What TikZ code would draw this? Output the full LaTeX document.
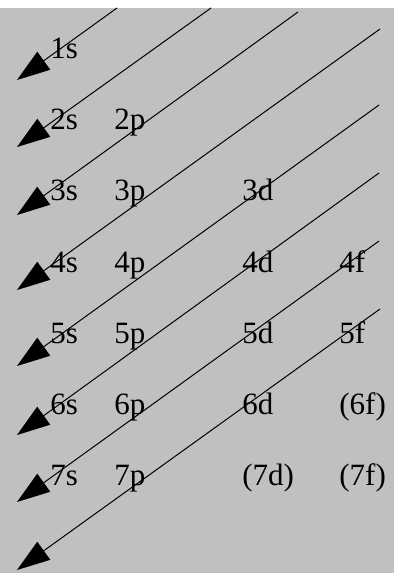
\documentclass[tikz,border=0pt]{standalone}
\usepackage{fontspec}
\setmainfont{Liberation Serif}
\usetikzlibrary{arrows.meta}
\definecolor{silver}{HTML}{C0C0C0}
\tikzset{
  orb/.style={anchor=base west, inner sep=0pt, font=\fontsize{15.5}{18}\selectfont},
  diag/.style={line width=0.5pt, -{Triangle[length=16.5pt,width=11pt]}}
}

\begin{document}
\begin{tikzpicture}[x=0.5pt, y=-0.5pt]
  \useasboundingbox (0,0) rectangle (394,573);
  \fill[silver] (0,8) rectangle (394,573);

  % orbital labels, one row per shell
  \node[orb] (n1s) at (50,58) {1s};
  \node[orb] (n2s) at (50,129) {2s};  \node[orb] (n2p) at (114,129) {2p};
  \node[orb] (n3s) at (50,200) {3s};  \node[orb] (n3p) at (114,200) {3p};
  \node[orb] (n3d) at (242,200) {3d};
  \node[orb] (n4s) at (50,272) {4s};  \node[orb] (n4p) at (114,272) {4p};
  \node[orb] (n4d) at (242,272) {4d}; \node[orb] (n4f) at (339,272) {4f};
  \node[orb] (n5s) at (50,343) {5s};  \node[orb] (n5p) at (114,343) {5p};
  \node[orb] (n5d) at (242,343) {5d}; \node[orb] (n5f) at (339,343) {5f};
  \node[orb] (n6s) at (50,414) {6s};  \node[orb] (n6p) at (114,414) {6p};
  \node[orb] (n6d) at (242,414) {6d}; \node[orb] (n6f) at (339,414) {(6f)};
  \node[orb] (n7s) at (50,485) {7s};  \node[orb] (n7p) at (114,485) {7p};
  \node[orb] (n7d) at (242,485) {(7d)}; \node[orb] (n7f) at (339,485) {(7f)};

  % upper ends and tips of the diagonals
  \coordinate (a1) at (117,8);   \coordinate (b1) at (17,80);
  \coordinate (a2) at (211,8);   \coordinate (b2) at (17,147);
  \coordinate (a3) at (298,12);  \coordinate (b3) at (17,215);
  \coordinate (a4) at (380,29);  \coordinate (b4) at (17,290);
  \coordinate (a5) at (379,105); \coordinate (b5) at (17,366);
  \coordinate (a6) at (379,173); \coordinate (b6) at (17,435);
  \coordinate (a7) at (379,241); \coordinate (b7) at (17,502);
  \coordinate (a8) at (380,309); \coordinate (b8) at (17,570);

  \draw[diag] (a1) -- (b1);
  \draw[diag] (a2) -- (b2);
  \draw[diag] (a3) -- (b3);
  \draw[diag] (a4) -- (b4);
  \draw[diag] (a5) -- (b5);
  \draw[diag] (a6) -- (b6);
  \draw[diag] (a7) -- (b7);
  \draw[diag] (a8) -- (b8);
\end{tikzpicture}
\end{document}
